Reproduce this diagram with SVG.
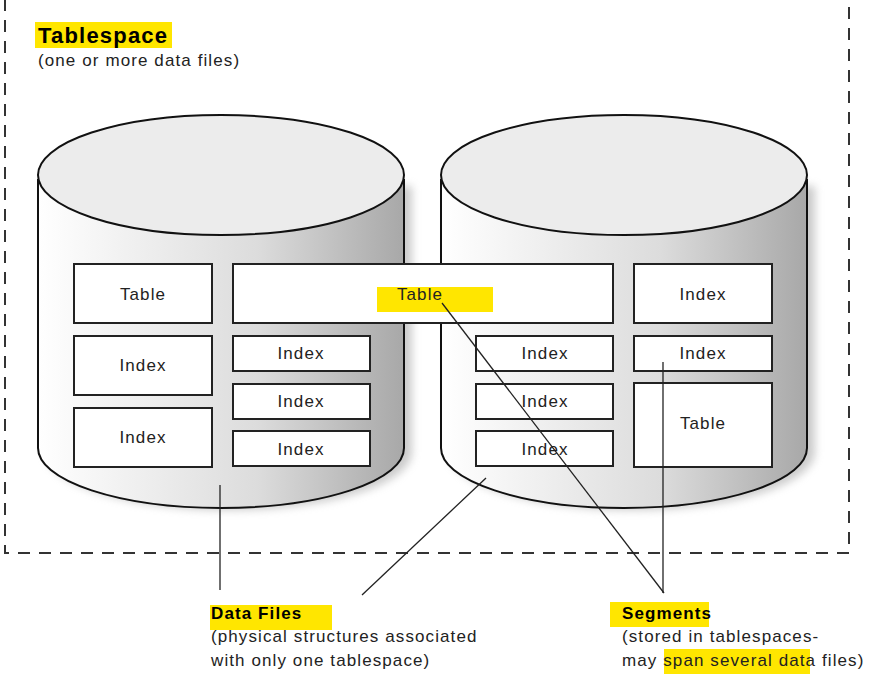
<svg xmlns="http://www.w3.org/2000/svg" width="880" height="675" viewBox="0 0 880 675">
<defs>
<linearGradient id="body" x1="0" x2="1" y1="0" y2="0">
<stop offset="0" stop-color="#ffffff"/><stop offset="0.6" stop-color="#dcdcdc"/><stop offset="1" stop-color="#a8a8a8"/>
</linearGradient>
<filter id="sh" x="-10%" y="-10%" width="130%" height="130%"><feGaussianBlur stdDeviation="4"/></filter>
</defs>
<style>
text{font-family:"Liberation Sans",Arial,sans-serif;font-size:17px;letter-spacing:1.1px;fill:#222}
.b{font-weight:bold;fill:#000}
.box{fill:#fff;stroke:#222;stroke-width:2}
.cyl{stroke:#111;stroke-width:2}
.hl{fill:#ffe600}
.ln{stroke:#222;stroke-width:1.3;fill:none}
</style>
<rect x="0" y="0" width="880" height="675" fill="#fff"/>
<rect x="5" y="-10" width="844" height="563" fill="none" stroke="#333" stroke-width="2" stroke-dasharray="12,9"/>
<g id="tablespace-label">
<rect class="hl" x="35" y="22" width="137" height="26"/>
<text class="b" x="38" y="43" style="font-size:22px;letter-spacing:1.2px">Tablespace</text>
<text x="38" y="66">(one or more data files)</text>
</g>
<g id="datafile1">
<path d="M46,186 V452 A183,58 0 0 0 412,452 V186 Z" fill="#999" opacity="0.5" filter="url(#sh)"/>
<path class="cyl" d="M38,180 V448 A183,60 0 0 0 404,448 V180 Z" fill="url(#body)"/>
<ellipse class="cyl" cx="221" cy="175" rx="183" ry="60" fill="#ececec"/>
</g>
<g id="datafile2">
<path d="M449,186 V452 A183,58 0 0 0 815,452 V186 Z" fill="#999" opacity="0.5" filter="url(#sh)"/>
<path class="cyl" d="M441,180 V448 A183,60 0 0 0 807,448 V180 Z" fill="url(#body)"/>
<ellipse class="cyl" cx="624" cy="175" rx="183" ry="60" fill="#ececec"/>
</g>
<g id="segments" text-anchor="middle">
<rect class="box" x="74" y="264" width="138" height="59"/><text x="143" y="300">Table</text>
<rect class="box" x="74" y="336" width="138" height="59"/><text x="143" y="371">Index</text>
<rect class="box" x="74" y="408" width="138" height="59"/><text x="143" y="443">Index</text>
<rect class="box" x="233" y="264" width="380" height="59"/>
<rect class="hl" x="377" y="287" width="116" height="25"/><text x="420" y="300">Table</text>
<rect class="box" x="233" y="336" width="137" height="35"/><text x="301" y="359">Index</text>
<rect class="box" x="233" y="384" width="137" height="35"/><text x="301" y="407">Index</text>
<rect class="box" x="233" y="431" width="137" height="35"/><text x="301" y="455">Index</text>
<rect class="box" x="476" y="336" width="137" height="35"/><text x="545" y="359">Index</text>
<rect class="box" x="476" y="384" width="137" height="35"/><text x="545" y="407">Index</text>
<rect class="box" x="476" y="431" width="137" height="35"/><text x="545" y="455">Index</text>
<rect class="box" x="634" y="264" width="138" height="59"/><text x="703" y="300">Index</text>
<rect class="box" x="634" y="336" width="138" height="35"/><text x="703" y="359">Index</text>
<rect class="box" x="634" y="383" width="138" height="84"/><text x="703" y="429">Table</text>
</g>
<g id="connectors">
<line class="ln" x1="220" y1="485" x2="220" y2="590"/>
<line class="ln" x1="486" y1="478" x2="362" y2="595"/>
<line class="ln" x1="442" y1="303" x2="664" y2="593"/>
<line class="ln" x1="663" y1="362" x2="663" y2="593"/>
</g>
<g id="labels">
<rect class="hl" x="210" y="605" width="122" height="25"/>
<text class="b" x="211" y="619">Data Files</text>
<text x="211" y="642">(physical structures associated</text>
<text x="211" y="666">with only one tablespace)</text>
<rect class="hl" x="610" y="602" width="99" height="25"/>
<text class="b" x="622" y="619">Segments</text>
<text x="622" y="642">(stored in tablespaces-</text>
<rect class="hl" x="664" y="649" width="146" height="25"/>
<text x="622" y="666">may span several data files)</text>
</g>
</svg>
